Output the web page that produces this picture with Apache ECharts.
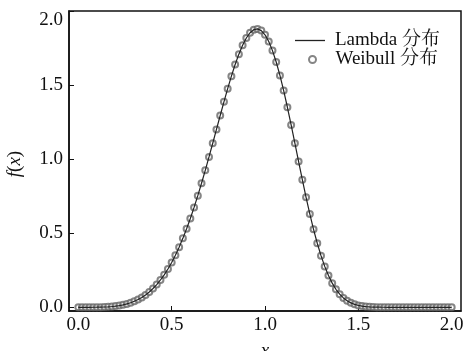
<!DOCTYPE html>
<html>
<head>
<meta charset="utf-8">
<script src="https://cdn.jsdelivr.net/npm/echarts@6/dist/echarts.min.js"></script>
<style>html,body{margin:0;padding:0;background:#fff}#c{width:464px;height:351px}</style>
</head>
<body>
<div id="c"></div>
<script>
const xValues = [0.00,0.02,0.04,0.06,0.08,0.10,0.12,0.14,0.16,0.18,0.20,0.22,0.24,0.26,0.28,0.30,0.32,0.34,0.36,0.38,0.40,0.42,0.44,0.46,0.48,0.50,0.52,0.54,0.56,0.58,0.60,0.62,0.64,0.66,0.68,0.70,0.72,0.74,0.76,0.78,0.80,0.82,0.84,0.86,0.88,0.90,0.92,0.94,0.96,0.98,1.00,1.02,1.04,1.06,1.08,1.10,1.12,1.14,1.16,1.18,1.20,1.22,1.24,1.26,1.28,1.30,1.32,1.34,1.36,1.38,1.40,1.42,1.44,1.46,1.48,1.50,1.52,1.54,1.56,1.58,1.60,1.62,1.64,1.66,1.68,1.70,1.72,1.74,1.76,1.78,1.80,1.82,1.84,1.86,1.88,1.90,1.92,1.94,1.96,1.98,2.00];
const weibullValues = [0,0.0000,0.0000,0.0001,0.0002,0.0005,0.0010,0.0019,0.0033,0.0052,0.0080,0.0117,0.0166,0.0228,0.0307,0.0404,0.0523,0.0665,0.0835,0.1034,0.1267,0.1536,0.1843,0.2193,0.2587,0.3029,0.3519,0.4061,0.4654,0.5299,0.5995,0.6741,0.7535,0.8371,0.9244,1.0148,1.1073,1.2009,1.2945,1.3866,1.4758,1.5603,1.6386,1.7087,1.7690,1.8176,1.8531,1.8740,1.8791,1.8678,1.8394,1.7941,1.7326,1.6558,1.5651,1.4626,1.3503,1.2311,1.1081,0.9838,0.8611,0.7425,0.6302,0.5264,0.4322,0.3486,0.2761,0.2143,0.1631,0.1215,0.0886,0.0632,0.0440,0.0299,0.0198,0.0127,0.0080,0.0049,0.0029,0.0017,0.0009,0.0005,0.0002,0.0001,0,0,0,0,0,0,0,0,0,0,0,0,0,0,0,0,0];
const lambdaValues = [0,0.0000,0.0000,0.0001,0.0002,0.0005,0.0010,0.0019,0.0033,0.0052,0.0080,0.0117,0.0166,0.0228,0.0307,0.0404,0.0523,0.0665,0.0835,0.1034,0.1267,0.1536,0.1843,0.2193,0.2587,0.3029,0.3519,0.4061,0.4654,0.5299,0.5995,0.6741,0.7535,0.8371,0.9244,1.0148,1.1073,1.2009,1.2945,1.3866,1.4758,1.5603,1.6386,1.7087,1.7690,1.8176,1.8531,1.8740,1.8791,1.8678,1.8394,1.7941,1.7326,1.6558,1.5651,1.4626,1.3503,1.2311,1.1081,0.9838,0.8611,0.7425,0.6302,0.5264,0.4322,0.3486,0.2761,0.2143,0.1631,0.1215,0.0886,0.0632,0.0440,0.0299,0.0198,0.0127,0.0080,0.0049,0.0029,0.0017,0.0009,0.0005,0.0002,0.0001,0,0,0,0,0,0,0,0,0,0,0,0,0,0,0,0,0];
const xTicks = [0, 0.5, 1.0, 1.5, 2.0];
const yTicks = [0, 0.5, 1.0, 1.5, 2.0];
const seriesNames = ['Lambda 分布', 'Weibull 分布'];

const FONT = '"Liberation Serif", "Noto Serif CJK SC", "Noto Sans CJK SC", serif';
const chart = echarts.init(document.getElementById('c'));
chart.setOption({
  animation: false,
  backgroundColor: '#fff',
  textStyle: { fontFamily: FONT, color: '#111' },
  grid: { left: 69, right: 3, top: 11, bottom: 40, show: true, borderColor: '#111', borderWidth: 1.5,
    containLabel: false, outerBoundsMode: 'none' },
  legend: [
    {
      data: [{ name: seriesNames[0], icon: 'rect', itemStyle: { color: '#222' } }],
      left: 295, top: 31, padding: 0, itemWidth: 30, itemHeight: 1.3,
      textStyle: { fontFamily: FONT, fontSize: 19, color: '#111', padding: [0, 0, 0, 5] }
    },
    {
      data: [{ name: seriesNames[1], icon: 'emptyCircle', itemStyle: { color: '#666', borderColor: '#666', borderWidth: 1 } }],
      left: 308, top: 50, padding: 0, itemWidth: 28, itemHeight: 7,
      textStyle: { fontFamily: FONT, fontSize: 19, color: '#111', padding: [0, 0, 0, 4] }
    }
  ],
  xAxis: {
    type: 'value', min: -0.05, max: 2.05,
    name: 'x', nameLocation: 'middle', nameGap: 30, nameMoveOverlap: false,
    nameTextStyle: { fontFamily: FONT, fontSize: 19, fontStyle: 'italic', color: '#111' },
    axisLine: { show: true, onZero: false, lineStyle: { color: '#111', width: 1.5 } },
    axisTick: { show: true, inside: true, length: 5, customValues: xTicks, lineStyle: { color: '#111' } },
    axisLabel: { customValues: xTicks, fontFamily: FONT, fontSize: 19, color: '#111', margin: 5,
      formatter: v => v.toFixed(1) },
    splitLine: { show: false }
  },
  yAxis: {
    type: 'value', min: -0.025, max: 2.0,
    name: '{i|f}({i|x})', nameLocation: 'middle', nameGap: 44, nameRotate: 90,
    nameTextStyle: { fontFamily: FONT, fontSize: 19, color: '#111', padding: [0, 0, 0, -6],
      rich: { i: { fontFamily: FONT, fontSize: 19, fontStyle: 'italic', color: '#111' } } },
    axisLine: { show: true, onZero: false, lineStyle: { color: '#111', width: 1.5 } },
    axisTick: { show: true, inside: true, length: 5, customValues: yTicks, lineStyle: { color: '#111' } },
    axisLabel: { customValues: yTicks, fontFamily: FONT, fontSize: 19, color: '#111', margin: 6,
      verticalAlignMaxLabel: 'top',
      formatter: v => v.toFixed(1) },
    splitLine: { show: false }
  },
  series: [
    {
      name: seriesNames[1], type: 'scatter', symbol: 'emptyCircle', symbolSize: 6,
      data: xValues.map((x, i) => [x, weibullValues[i]]),
      itemStyle: { color: '#666', borderColor: '#666', borderWidth: 1 }, z: 2
    },
    {
      name: seriesNames[0], type: 'line', symbol: 'none', showSymbol: false,
      data: xValues.map((x, i) => [x, lambdaValues[i]]),
      lineStyle: { color: '#222', width: 1.2 }, itemStyle: { color: '#222' }, z: 3
    }
  ]
});
</script>
</body>
</html>
